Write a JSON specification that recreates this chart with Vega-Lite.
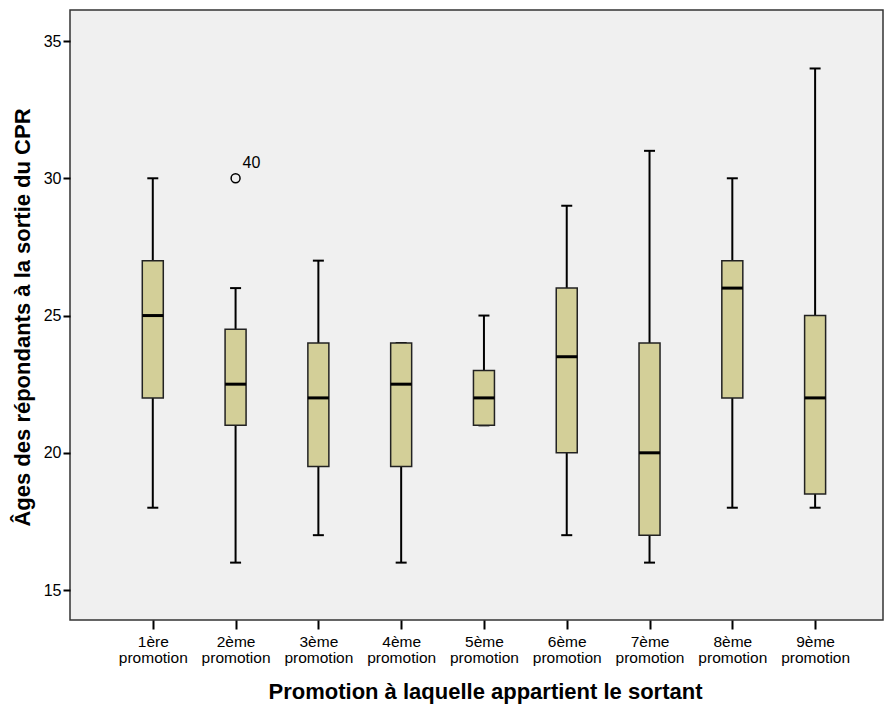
{
  "$schema": "https://vega.github.io/schema/vega-lite/v6.json",
  "autosize": {"type": "none"},
  "width": 813,
  "height": 610,
  "padding": {"left": 70, "top": 10, "right": 2, "bottom": 85},
  "background": "white",
  "config": {
    "font": "Liberation Sans",
    "view": {"fill": "#f0f0f0", "stroke": "#333333", "strokeWidth": 1.5}
  },
  "datasets": {
    "boxes": [
      {"idx": 1, "promo": "1ère", "lower": 18, "q1": 22, "median": 25, "q3": 27, "upper": 30},
      {"idx": 2, "promo": "2ème", "lower": 16, "q1": 21, "median": 22.5, "q3": 24.5, "upper": 26},
      {"idx": 3, "promo": "3ème", "lower": 17, "q1": 19.5, "median": 22, "q3": 24, "upper": 27},
      {"idx": 4, "promo": "4ème", "lower": 16, "q1": 19.5, "median": 22.5, "q3": 24, "upper": 24},
      {"idx": 5, "promo": "5ème", "lower": 21, "q1": 21, "median": 22, "q3": 23, "upper": 25},
      {"idx": 6, "promo": "6ème", "lower": 17, "q1": 20, "median": 23.5, "q3": 26, "upper": 29},
      {"idx": 7, "promo": "7ème", "lower": 16, "q1": 17, "median": 20, "q3": 24, "upper": 31},
      {"idx": 8, "promo": "8ème", "lower": 18, "q1": 22, "median": 26, "q3": 27, "upper": 30},
      {"idx": 9, "promo": "9ème", "lower": 18, "q1": 18.5, "median": 22, "q3": 25, "upper": 34}
    ],
    "outliers": [
      {"idx": 2, "value": 30, "case": "40"}
    ]
  },
  "data": {"name": "boxes"},
  "encoding": {
    "x": {
      "field": "idx",
      "type": "quantitative",
      "scale": {"domain": [0, 9.82], "nice": false, "zero": false, "padding": 0},
      "axis": {
        "values": [1, 2, 3, 4, 5, 6, 7, 8, 9],
        "labelExpr": "[['1ère','2ème','3ème','4ème','5ème','6ème','7ème','8ème','9ème'][datum.value - 1], 'promotion']",
        "grid": false,
        "domain": false,
        "tickSize": 9,
        "tickWidth": 2,
        "tickColor": "#000000",
        "labelFontSize": 15.5,
        "labelColor": "#000000",
        "labelPadding": 5,
        "labelLineHeight": 16,
        "labelBaseline": "top",
        "title": "Promotion à laquelle appartient le sortant",
        "titleFontSize": 22,
        "titleFontWeight": "bold",
        "titleColor": "#000000",
        "titleX": 415,
        "titleY": 71,
        "titleBaseline": "middle",
        "titleAnchor": null
      }
    }
  },
  "layer": [
    {
      "mark": {"type": "rule", "color": "#000000", "strokeWidth": 2},
      "encoding": {
        "y": {
          "field": "lower",
          "type": "quantitative",
          "scale": {"domain": [13.91, 36.13], "nice": false, "zero": false, "padding": 0},
          "axis": {
            "values": [15, 20, 25, 30, 35],
            "grid": false,
            "domain": false,
            "tickSize": 7,
            "tickWidth": 2,
            "tickColor": "#000000",
            "labelFontSize": 16,
            "labelColor": "#000000",
            "labelPadding": 2,
            "title": "Âges des répondants à la sortie du CPR",
            "titleFontSize": 22,
            "titleFontWeight": "bold",
            "titleColor": "#000000",
            "titleX": -48,
            "titleY": 307,
            "titleAngle": -90,
            "titleBaseline": "middle",
            "titleAlign": "center"
          }
        },
        "y2": {"field": "upper"}
      }
    },
    {
      "mark": {"type": "tick", "orient": "horizontal", "color": "#000000", "opacity": 1, "size": 11, "thickness": 2},
      "encoding": {"y": {"field": "lower", "type": "quantitative"}}
    },
    {
      "mark": {"type": "tick", "orient": "horizontal", "color": "#000000", "opacity": 1, "size": 11, "thickness": 2},
      "encoding": {"y": {"field": "upper", "type": "quantitative"}}
    },
    {
      "mark": {"type": "bar", "size": 21, "fill": "#d3cf98", "stroke": "#222222", "strokeWidth": 1.5, "opacity": 1},
      "encoding": {
        "y": {"field": "q1", "type": "quantitative"},
        "y2": {"field": "q3"}
      }
    },
    {
      "mark": {"type": "tick", "orient": "horizontal", "color": "#000000", "opacity": 1, "size": 21, "thickness": 3},
      "encoding": {"y": {"field": "median", "type": "quantitative"}}
    },
    {
      "data": {"name": "outliers"},
      "mark": {"type": "point", "shape": "circle", "filled": false, "size": 80, "stroke": "#000000", "strokeWidth": 1.5, "opacity": 1},
      "encoding": {"y": {"field": "value", "type": "quantitative"}}
    },
    {
      "data": {"name": "outliers"},
      "mark": {"type": "text", "align": "left", "baseline": "middle", "dx": 7, "dy": -15, "fontSize": 16, "color": "#000000"},
      "encoding": {
        "y": {"field": "value", "type": "quantitative"},
        "text": {"field": "case"}
      }
    }
  ]
}
